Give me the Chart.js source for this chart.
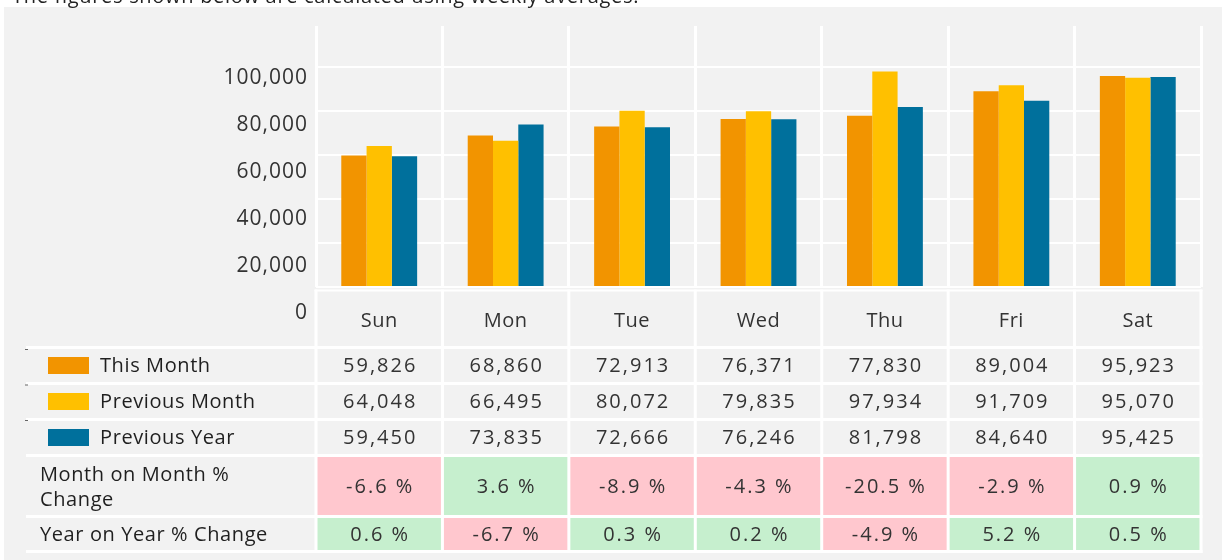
<!DOCTYPE html>
<html>
<head>
<meta charset="utf-8">
<script src="https://cdn.jsdelivr.net/npm/chart.js@4.4.1/dist/chart.umd.min.js"></script>
<style>
html,body{margin:0;padding:0;background:#fff;overflow:hidden;}
canvas{display:block;}
</style>
</head>
<body>
<canvas id="c" width="1222" height="560"></canvas>
<script>
// ---------- data ----------
const noteText = 'The figures shown below are calculated using weekly averages.';
const days = ['Sun', 'Mon', 'Tue', 'Wed', 'Thu', 'Fri', 'Sat'];
const thisMonth = [59826, 68860, 72913, 76371, 77830, 89004, 95923];
const previousMonth = [64048, 66495, 80072, 79835, 97934, 91709, 95070];
const previousYear = [59450, 73835, 72666, 76246, 81798, 84640, 95425];
const momChange = [-6.6, 3.6, -8.9, -4.3, -20.5, -2.9, 0.9];
const yoyChange = [0.6, -6.7, 0.3, 0.2, -4.9, 5.2, 0.5];
const yTicks = [0, 20000, 40000, 60000, 80000, 100000];
const seriesNames = ['This Month', 'Previous Month', 'Previous Year'];
const momLabel = ['Month on Month %', 'Change'];
const yoyLabel = ['Year on Year % Change'];

// ---------- style ----------
const FONT = '"Open Sans", "Noto Sans", sans-serif';
const COLORS = ['#F29400', '#FFC000', '#00709C'];
const TEXT = '#333333';
const LABEL = '#1f1f1f';
const GRAY = '#f2f2f2';
const RED = '#ffc7ce';
const GREEN = '#c6efce';
const ROW_DATA = [[349, 382], [385, 418], [421, 454]];
const ROW_MOM = [457, 515];
const ROW_YOY = [518, 550];
const H_LINES = [347.5, 383.5, 419.5, 455.5, 516.5, 551.5];

function colBounds(chart) {
  const x = chart.scales.x;
  const cw = x.getPixelForValue(1) - x.getPixelForValue(0);
  const b = days.map((d, i) => x.getPixelForValue(i) - cw / 2);
  b.push(x.getPixelForValue(days.length - 1) + cw / 2);
  return b;
}

const tablePlugin = {
  id: 'table',
  afterLayout(chart) {
    const s = chart.scales.x;
    if (!s.__wrapped) {
      const orig = s.drawLabels;
      s.drawLabels = function (a) {
        const c = this.ctx; c.save(); c.letterSpacing = '0.5px'; orig.call(this, a); c.restore();
      };
      s.__wrapped = true;
    }
  },
  beforeDraw(chart) {
    const c = chart.ctx, W = chart.width, H = chart.height;
    c.save();
    c.fillStyle = '#fff'; c.fillRect(0, 0, W, H);
    c.fillStyle = GRAY; c.fillRect(4, 7, W - 4, H - 7);
    c.fillStyle = '#222'; c.font = '20px ' + FONT; c.textAlign = 'left'; c.textBaseline = 'alphabetic';
    c.letterSpacing = '0.7px';
    c.fillText(noteText, 12, 3);
    const b = colBounds(chart);
    [[momChange, ROW_MOM], [yoyChange, ROW_YOY]].forEach(([arr, r]) => {
      arr.forEach((v, i) => {
        c.fillStyle = v < 0 ? RED : GREEN;
        c.fillRect(b[i], r[0], b[i + 1] - b[i], r[1] - r[0]);
      });
    });
    c.fillStyle = '#fff';
    c.fillRect(b[0] - 1.5, 289.5, b[b.length - 1] - b[0] + 3, 2);
    H_LINES.forEach(y => c.fillRect(26, y - 1.5, b[b.length - 1] + 1.5 - 26, 3));
    b.forEach(x => c.fillRect(x - 1.5, 289.5, 3, 553 - 289.5));
    c.fillStyle = '#666';
    [349, 384.5, 420].forEach(y => c.fillRect(25, y, 3, 1));
    c.restore();
    c.letterSpacing = '1px';
  },
  afterDraw(chart) {
    const c = chart.ctx;
    const x = chart.scales.x;
    c.save();
    c.textBaseline = 'middle';
    const series = [thisMonth, previousMonth, previousYear];
    series.forEach((arr, r) => {
      const cy = (ROW_DATA[r][0] + ROW_DATA[r][1]) / 2;
      c.fillStyle = chart.data.datasets[r].backgroundColor;
      c.fillRect(48, cy - 8.5, 41, 17);
      c.letterSpacing = '0.6px';
      c.fillStyle = LABEL; c.font = '20px ' + FONT; c.textAlign = 'left';
      c.fillText(seriesNames[r], 100, cy + 1);
      c.letterSpacing = '2px';
      c.fillStyle = TEXT; c.textAlign = 'center';
      arr.forEach((v, i) => c.fillText(v.toLocaleString('en-US'), x.getPixelForValue(i) + 1, cy + 1));
    });
    [[momChange, ROW_MOM], [yoyChange, ROW_YOY]].forEach(([arr, r]) => {
      const cy = (r[0] + r[1]) / 2;
      c.letterSpacing = '2px'; c.fillStyle = TEXT; c.textAlign = 'center'; c.font = '20px ' + FONT;
      arr.forEach((v, i) => c.fillText(v.toFixed(1) + ' %', x.getPixelForValue(i) + 1, cy + 1));
    });
    c.letterSpacing = '0.6px'; c.fillStyle = LABEL; c.textAlign = 'left'; c.font = '20px ' + FONT;
    c.fillText(momLabel[0], 40, 475);
    c.fillText(momLabel[1], 40, 500);
    c.fillText(yoyLabel[0], 40, 535);
    c.restore();
  }
};

new Chart(document.getElementById('c'), {
  type: 'bar',
  data: {
    labels: days,
    datasets: [
      { label: seriesNames[0], data: thisMonth, backgroundColor: COLORS[0] },
      { label: seriesNames[1], data: previousMonth, backgroundColor: COLORS[1] },
      { label: seriesNames[2], data: previousYear, backgroundColor: COLORS[2] }
    ]
  },
  options: {
    responsive: false,
    animation: false,
    layout: { padding: { top: 26, right: 21, bottom: 213, left: 0 } },
    plugins: { legend: { display: false }, tooltip: { enabled: false }, title: { display: false } },
    datasets: { bar: { categoryPercentage: 0.6, barPercentage: 1.0, borderWidth: 0 } },
    scales: {
      x: {
        position: 'bottom',
        offset: true,
        grid: { display: true, offset: true, color: '#ffffff', lineWidth: 3, drawTicks: false },
        border: { display: false },
        ticks: { font: { family: FONT, size: 20 }, color: TEXT, padding: 22, maxRotation: 0, autoSkip: false },
        afterFit(s) { s.height = 60; }
      },
      y: {
        position: 'left',
        weight: 1,
        min: 0,
        max: 118636,
        grid: { color: '#ffffff', lineWidth: 2, drawTicks: false },
        border: { display: false },
        ticks: { display: false },
        afterBuildTicks(axis) { axis.ticks = yTicks.map(v => ({ value: v })); },
        afterFit(s) { s.width = 0; }
      },
      yl: {
        position: 'left',
        weight: 2,
        min: 11064,
        max: 122128,
        grid: { display: false, drawTicks: false },
        border: { display: false },
        ticks: {
          font: { family: FONT, size: 21 }, color: TEXT, padding: 8, autoSkip: false,
          callback: v => Number(v).toLocaleString('en-US')
        },
        afterBuildTicks(axis) { axis.ticks = yTicks.map(v => ({ value: v })); },
        afterFit(s) { s.width = 316; }
      }
    }
  },
  plugins: [tablePlugin]
});
</script>
</body>
</html>
